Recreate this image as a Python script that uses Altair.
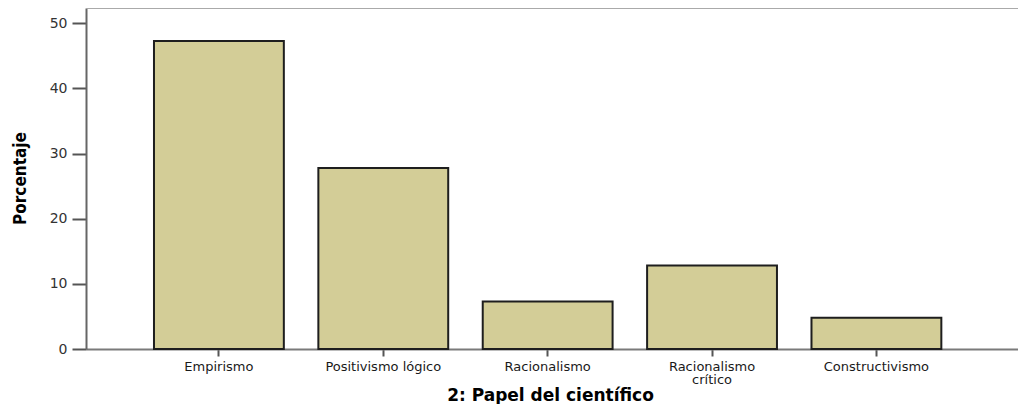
import altair as alt
import pandas as pd

categorias = ["Empirismo", "Positivismo lógico", "Racionalismo", "Racionalismo crítico", "Constructivismo"]
porcentajes = [47.3, 27.8, 7.3, 12.8, 4.8]

df = pd.DataFrame({"categoria": categorias, "porcentaje": porcentajes})

W, H = 932, 341

bars = alt.Chart(df).mark_bar(
    color="#d3cd97", stroke="#1e1e1e", strokeWidth=2
).encode(
    x=alt.X(
        "categoria:N",
        sort=categorias,
        scale=alt.Scale(paddingInner=0.21, paddingOuter=0.44, align=0.47),
        axis=alt.Axis(
            title="2: Papel del científico",
            labelAngle=0,
            labelFont="DejaVu Sans",
            labelFontSize=13,
            labelColor="#1a1a1a",
            labelPadding=4,
            labelLineHeight=13,
            labelExpr="datum.label == 'Racionalismo crítico' ? ['Racionalismo', 'crítico'] : datum.label",
            tickSize=7,
            tickWidth=2,
            tickColor="#555555",
            domainColor="#7a7a7a",
            domainWidth=2,
            titleFont="DejaVu Sans",
            titleFontWeight="bold",
            titleFontSize=17,
            titleColor="#000000",
            titleX=464,
            titleY=51,
            titleAlign="center",
            titleBaseline="alphabetic",
        ),
    ),
    y=alt.Y(
        "porcentaje:Q",
        scale=alt.Scale(domain=[0, 52.35], nice=False, zero=True),
        axis=alt.Axis(
            title="Porcentaje",
            values=[0, 10, 20, 30, 40, 50],
            grid=False,
            labelFont="DejaVu Sans",
            labelFontSize=14,
            labelColor="#333333",
            labelPadding=5,
            tickSize=14,
            tickWidth=2,
            tickColor="#555555",
            domainColor="#666666",
            domainWidth=2,
            titleFont="DejaVu Sans Condensed, Liberation Sans",
            titleFontWeight="bold",
            titleFontSize=17,
            titleColor="#000000",
            titleAngle=270,
            titleX=-66,
            titleY=170,
            titleAlign="center",
            titleBaseline="middle",
        ),
    ),
)

top_border = alt.Chart(df).mark_rule(color="#aaaaaa", strokeWidth=2).encode(
    x=alt.value(0), x2=alt.value(W), y=alt.value(0)
)

chart = alt.layer(bars, top_border).properties(
    width=W,
    height=H,
    autosize=alt.AutoSizeParams(type="none"),
    padding={"left": 78, "top": 0, "right": 0, "bottom": 55},
).configure_view(
    fill="#f0f0f0", stroke=None
).configure(background="#ffffff")

chart.save("out.html", embed_options={"renderer": "svg", "actions": False})
